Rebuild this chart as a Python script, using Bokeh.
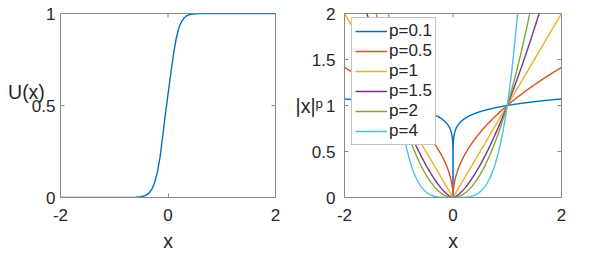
import numpy as np
from bokeh.plotting import figure
from bokeh.layouts import row
from bokeh.models import Range1d, FixedTicker, Legend, LegendItem
from bokeh.embed import file_html
from bokeh.resources import INLINE

# ---- data ----
u_x = [-2.0, -0.7, -0.6, -0.5, -0.45, -0.4, -0.35, -0.3, -0.25, -0.2, -0.15,
       -0.1, -0.05, 0.0, 0.05, 0.1, 0.15, 0.2, 0.25, 0.3, 0.35, 0.4, 0.5,
       0.6, 0.7, 2.0]
u_y = [0.0, 0.0, 0.001, 0.004, 0.008, 0.014, 0.025, 0.045, 0.08, 0.135,
       0.215, 0.33, 0.45, 0.56, 0.67, 0.775, 0.86, 0.92, 0.955, 0.976, 0.988,
       0.994, 0.998, 1.0, 1.0, 1.0]

p_values = [0.1, 0.5, 1, 1.5, 2, 4]
p_labels = ["p=0.1", "p=0.5", "p=1", "p=1.5", "p=2", "p=4"]
p_colors = ["#0072BD", "#D95319", "#EDB120", "#7E2F8E", "#77AC30", "#4DBEEE"]

x_ticks = [-2, 0, 2]
x_tick_labels = ["-2", "0", "2"]
u_ticks = [0, 0.5, 1]
u_tick_labels = ["0", "0.5", "1"]
pow_ticks = [0, 0.5, 1, 1.5, 2]
pow_tick_labels = ["0", "0.5", "1", "1.5", "2"]

FONT = "Liberation Sans"
GREY = "#8a8a8a"
TXT = "#262626"
TICK_FS = "17px"
LAB_FS = "19.5px"
H = 254
TOP = 13
FRAME_H = 185


def style_axis(ax, ticks, labels, standoff):
    ax.ticker = FixedTicker(ticks=ticks)
    ax.major_label_overrides = {t: l for t, l in zip(ticks, labels)}
    ax.major_label_text_font = FONT
    ax.major_label_text_font_size = TICK_FS
    ax.major_label_text_color = TXT
    ax.major_label_standoff = standoff
    ax.major_tick_in = 4
    ax.major_tick_out = 0
    ax.major_tick_line_color = GREY
    ax.minor_tick_line_color = None
    ax.axis_line_color = GREY
    ax.axis_label_text_font = FONT
    ax.axis_label_text_font_size = LAB_FS
    ax.axis_label_text_font_style = "normal"
    ax.axis_label_text_color = TXT


def mirror_ticks(p, yr, yticks, frame_w):
    # inward tick marks on the top and right edges of the box
    dy = 4.0 * (yr[1] - yr[0]) / FRAME_H
    dx = 4.0 * 4.0 / frame_w
    p.segment(x0=x_ticks, y0=[yr[1]] * len(x_ticks), x1=x_ticks,
              y1=[yr[1] - dy] * len(x_ticks), line_color=GREY, line_width=1)
    p.segment(x0=[2] * len(yticks), y0=yticks, x1=[2 - dx] * len(yticks),
              y1=yticks, line_color=GREY, line_width=1)


def make_fig(width, yr, yticks, ylabels, left, frame_w, ystand, ylabel,
             ylab_stand):
    p = figure(width=width, height=H, output_backend="svg",
               toolbar_location=None, x_range=Range1d(-2, 2),
               y_range=Range1d(*yr), min_border_left=left,
               min_border_right=width - left - frame_w, min_border_top=TOP,
               min_border_bottom=H - TOP - FRAME_H)
    p.grid.visible = False
    p.outline_line_color = GREY
    p.background_fill_color = "white"
    p.border_fill_color = "white"
    style_axis(p.xaxis[0], x_ticks, x_tick_labels, 11)
    p.xaxis[0].axis_label = "x"
    p.xaxis[0].axis_label_standoff = 6
    style_axis(p.yaxis[0], yticks, ylabels, ystand)
    p.yaxis[0].axis_label = ylabel
    p.yaxis[0].axis_label_orientation = "horizontal"
    p.yaxis[0].axis_label_standoff = ylab_stand
    mirror_ticks(p, yr, yticks, frame_w)
    return p


# ---- left: U(x) ----
p1 = make_fig(290, (0, 1), u_ticks, u_tick_labels, 60, 215, 5, "U(x)\n",
              -16)
p1.line(u_x, u_y, line_color=p_colors[0], line_width=1.4)

# ---- right: |x|^p ----
p2 = make_fig(304, (0, 2), pow_ticks, pow_tick_labels, 54, 217, 9,
              "|x|\u1d56", -14)
xs = np.linspace(-2, 2, 2001)
items = []
for pv, lab, col in zip(p_values, p_labels, p_colors):
    r = p2.line(xs, np.abs(xs) ** pv, line_color=col, line_width=1.4)
    items.append(LegendItem(label=lab, renderers=[r]))
leg = Legend(items=items, location=(7, 52), margin=0, padding=3,
             spacing=0, glyph_width=32, glyph_height=20, label_height=20,
             label_standoff=2, label_text_font=FONT,
             label_text_font_size=TICK_FS, label_text_color=TXT,
             border_line_color=GREY, background_fill_color="white",
             background_fill_alpha=1.0)
p2.add_layout(leg)

layout = row(p1, p2)
open("out.html", "w").write(file_html(layout, INLINE))
